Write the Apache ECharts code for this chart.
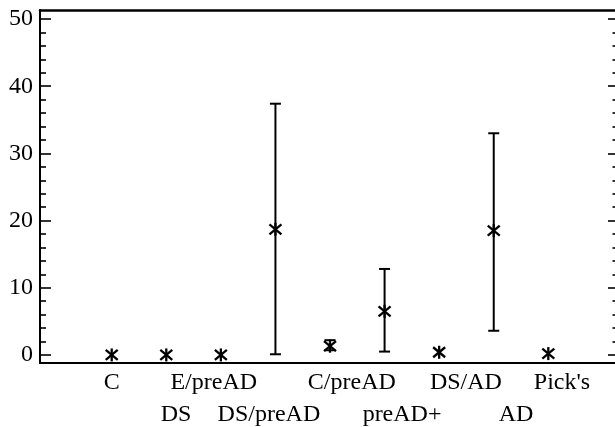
<!DOCTYPE html>
<html>
<head>
<meta charset="utf-8">
<script src="https://cdn.jsdelivr.net/npm/echarts@6/dist/echarts.min.js"></script>
<style>
html,body{margin:0;padding:0;background:#fff;}
#chart{width:615px;height:427px;}
</style>
</head>
<body>
<div id="chart"></div>
<script>
const categories = ['C', 'DS', 'E/preAD', 'DS/preAD', 'C/preAD', 'preAD+', 'DS/AD', 'AD', "Pick's"];
const means = [0, 0, 0, 18.7, 1.3, 6.5, 0.4, 18.5, 0.2];
const lower = [null, null, null, 0.1, 0.7, 0.5, null, 3.6, null];
const upper = [null, null, null, 37.4, 2.2, 12.8, null, 33.0, null];
// where each category's tick label sits along the x scale (labels are offset from the marks in the original)
const labelPositions = [1.0, 2.18, 2.87, 3.88, 5.40, 6.32, 7.49, 8.41, 9.25];
const yMajorTicks = [0, 10, 20, 30, 40, 50];
const yMinorTicks = [2, 4, 6, 8, 12, 14, 16, 18, 22, 24, 26, 28, 32, 34, 36, 38, 42, 44, 46, 48];

const positions = categories.map((c, i) => i + 1);
const seriesData = categories.map((c, i) => [
  positions[i], means[i],
  lower[i] == null ? '-' : lower[i],
  upper[i] == null ? '-' : upper[i]
]);

const FONT = '"Liberation Serif", "Times New Roman", serif';
const YMIN = -1.2, YMAX = 51.35;
const XMIN = -0.314, XMAX = 10.222;

const chart = echarts.init(document.getElementById('chart'), null, {renderer: 'canvas'});

function yAxisDef(pos, major) {
  const left = pos === 'left';
  return {
    type: 'value', position: pos, min: YMIN, max: YMAX,
    splitLine: {show: false},
    axisLine: {show: major && left, onZero: false, lineStyle: {color: '#000', width: 2}},
    axisTick: {
      show: true, inside: true,
      length: left ? (major ? 11 : 6) : (major ? 7 : 2.5),
      customValues: major ? yMajorTicks : yMinorTicks,
      lineStyle: {color: '#000', width: 1.6}
    },
    axisLabel: {
      show: major && left,
      customValues: yMajorTicks,
      fontFamily: FONT, fontSize: 24, color: '#000', margin: 7
    }
  };
}

const option = {
  animation: false,
  backgroundColor: '#fff',
  grid: {left: 40, right: 0, top: 10, bottom: 64, show: false, containLabel: false, outerBoundsMode: 'none'},
  xAxis: [{
    type: 'value', min: XMIN, max: XMAX, position: 'bottom',
    splitLine: {show: false},
    axisLine: {show: true, onZero: false, lineStyle: {color: '#000', width: 2}},
    axisTick: {show: false},
    axisLabel: {
      customValues: labelPositions,
      fontFamily: FONT, fontSize: 24, color: '#000', margin: 4, lineHeight: 32,
      formatter: function (v) {
        let best = 0, bd = Infinity;
        labelPositions.forEach((lp, k) => { const d = Math.abs(lp - v); if (d < bd) { bd = d; best = k; } });
        return best % 2 === 0 ? categories[best] : '\n' + categories[best];
      }
    }
  }, {
    type: 'value', min: XMIN, max: XMAX, position: 'top',
    splitLine: {show: false},
    axisLine: {show: true, onZero: false, lineStyle: {color: '#000', width: 2.5}},
    axisTick: {show: false},
    axisLabel: {show: false}
  }],
  yAxis: [yAxisDef('left', true), yAxisDef('left', false), yAxisDef('right', true), yAxisDef('right', false)],
  series: [{
    type: 'custom',
    clip: false,
    encode: {x: 0, y: 1},
    data: seriesData,
    renderItem: function (params, api) {
      const x = api.value(0), m = api.value(1), lo = api.value(2), hi = api.value(3);
      const p = api.coord([x, m]);
      const style = {stroke: '#000', lineWidth: 2};
      const children = [];
      if (isFinite(lo) && isFinite(hi)) {
        const pl = api.coord([x, lo]), ph = api.coord([x, hi]);
        const cw = 5.5;
        children.push({type: 'line', shape: {x1: pl[0], y1: pl[1], x2: ph[0], y2: ph[1]}, style: style});
        children.push({type: 'line', shape: {x1: pl[0] - cw, y1: pl[1], x2: pl[0] + cw, y2: pl[1]}, style: style});
        children.push({type: 'line', shape: {x1: ph[0] - cw, y1: ph[1], x2: ph[0] + cw, y2: ph[1]}, style: style});
      }
      const s = 6;
      const starStyle = {stroke: '#000', lineWidth: 2.3};
      children.push({type: 'line', shape: {x1: p[0], y1: p[1] - 6.5, x2: p[0], y2: p[1] + 6.5}, style: starStyle});
      children.push({type: 'line', shape: {x1: p[0] - s, y1: p[1] - 5, x2: p[0] + s, y2: p[1] + 5}, style: starStyle});
      children.push({type: 'line', shape: {x1: p[0] - s, y1: p[1] + 5, x2: p[0] + s, y2: p[1] - 5}, style: starStyle});
      return {type: 'group', children: children};
    }
  }]
};
chart.setOption(option);
</script>
</body>
</html>
